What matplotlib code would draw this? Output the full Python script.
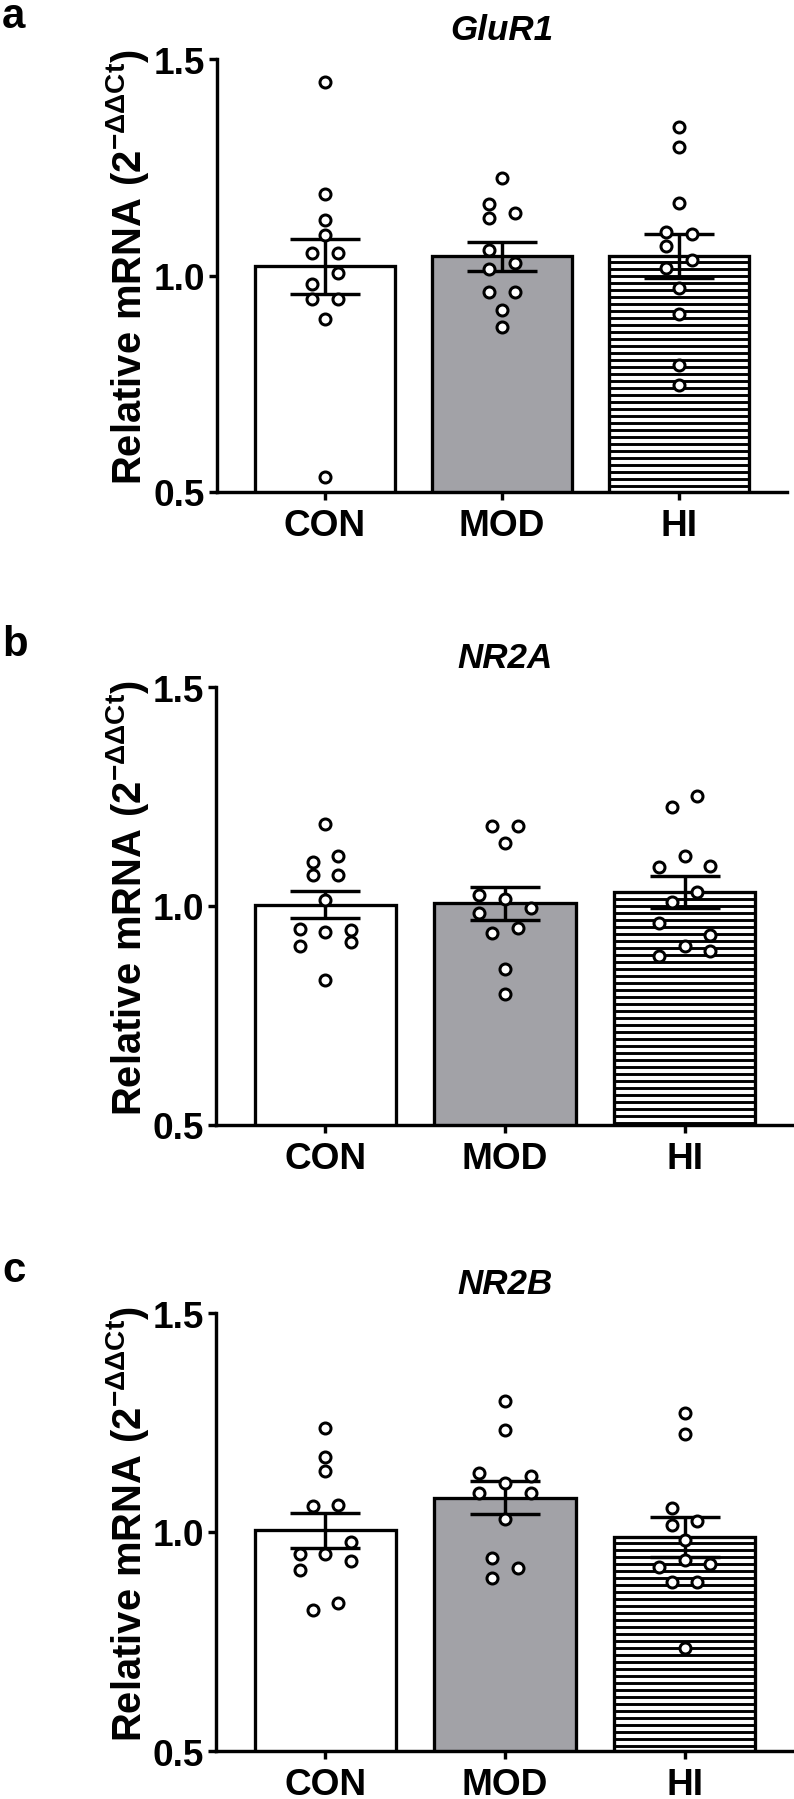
import matplotlib
matplotlib.use("Agg")
import matplotlib.pyplot as plt
import numpy as np

# ---------------- data ----------------
groups = ["CON", "MOD", "HI"]
genes = ["GluR1", "NR2A", "NR2B"]
panel_letters = ["a", "b", "c"]

glur1_con = [1.448, 1.188, 1.128, 1.094, 1.051, 1.051, 1.005, 0.981, 0.945, 0.945, 0.899, 0.535]
glur1_mod = [1.225, 1.164, 1.144, 1.133, 1.058, 1.029, 1.015, 0.962, 0.962, 0.920, 0.882]
glur1_hi = [1.342, 1.296, 1.168, 1.100, 1.096, 1.069, 1.035, 1.018, 0.972, 0.912, 0.793, 0.747]
glur1_mean = [1.021, 1.044, 1.045]
glur1_sem = [0.063, 0.034, 0.051]

nr2a_con = [1.188, 1.101, 1.115, 1.070, 1.070, 1.014, 0.948, 0.941, 0.946, 0.908, 0.917, 0.830]
nr2a_mod = [1.182, 1.182, 1.144, 1.024, 1.015, 0.996, 0.984, 0.949, 0.939, 0.856, 0.799]
nr2a_hi = [1.251, 1.226, 1.115, 1.089, 1.092, 1.032, 1.010, 0.961, 0.933, 0.908, 0.897, 0.886]
nr2a_mean = [1.003, 1.006, 1.032]
nr2a_sem = [0.031, 0.038, 0.036]

nr2b_con = [1.238, 1.171, 1.140, 1.059, 1.062, 0.978, 0.950, 0.950, 0.933, 0.913, 0.839, 0.821]
nr2b_mod = [1.298, 1.234, 1.134, 1.127, 1.112, 1.090, 1.090, 1.029, 0.940, 0.918, 0.896]
nr2b_hi = [1.271, 1.223, 1.055, 1.026, 1.017, 0.981, 0.937, 0.920, 0.928, 0.885, 0.885, 0.736]
nr2b_mean = [1.004, 1.078, 0.989]
nr2b_sem = [0.040, 0.038, 0.046]

# ---------------- layout (scatter slots, not data) ----------------
glur1_slots = [[0, 0, 0, 0, -1, 1, 1, -1, -1, 1, 0, 0],
               [0, -1, 1, -1, -1, 1, -1, -1, 1, 0, 0],
               [0, 0, 0, -1, 1, -1, 1, -1, 0, 0, 0, 0]]
nr2a_slots = [[0, -1, 1, -1, 1, 0, -2, 0, 2, -2, 2, 0],
              [-1, 1, 0, -2, 0, 2, -2, 1, -1, 0, 0],
              [1, -1, 0, -2, 2, 1, -1, -2, 2, 0, 2, -2]]
nr2b_slots = [[0, 0, 0, -1, 1, 2, -2, 0, 2, -2, 1, -1],
              [0, 0, -2, 2, 0, -2, 2, 0, -1, 1, -1],
              [0, 0, -1, 1, -1, 0, 0, -2, 2, -1, 1, 0]]

panels = [
    (genes[0], panel_letters[0], [glur1_con, glur1_mod, glur1_hi], glur1_mean, glur1_sem, glur1_slots),
    (genes[1], panel_letters[1], [nr2a_con, nr2a_mod, nr2a_hi], nr2a_mean, nr2a_sem, nr2a_slots),
    (genes[2], panel_letters[2], [nr2b_con, nr2b_mod, nr2b_hi], nr2b_mean, nr2b_sem, nr2b_slots),
]

W, H, DPI = 795, 1800, 84


def pt(px):
    return px * 72.0 / DPI


plt.rcParams.update({
    "font.family": ["Liberation Sans", "DejaVu Sans"],
    "font.weight": "bold",
    "mathtext.fontset": "custom",
    "mathtext.rm": "Liberation Sans",
    "mathtext.bf": "Liberation Sans:bold",
    "mathtext.it": "Liberation Sans:italic",
    "hatch.linewidth": pt(2.9),
    "hatch.color": "black",
})

# axes rectangles in pixels: left, top, right, bottom
rects = [(217, 60, 787, 493), (216, 688, 794, 1126), (216, 1314, 794, 1752)]
bar_colors = ["white", "#A2A2A7", "white"]
ylabel = r"$\mathbf{Relative\ mRNA\ (2}^{\mathrm{-ΔΔCt}}\mathbf{)}$"

fig = plt.figure(figsize=(W / DPI, H / DPI), dpi=DPI)

for (gene, letter, pts_lists, means, sems, slots), (l, t, r, b) in zip(panels, rects):
    ax = fig.add_axes([l / W, 1 - b / H, (r - l) / W, (b - t) / H])
    x = np.arange(len(groups))
    bars = ax.bar(x, means, width=0.79, color=bar_colors, edgecolor="black",
                  linewidth=pt(3.3), zorder=2)
    bars[2].set_hatch("--")
    ax.errorbar(x, means, yerr=sems, fmt="none", ecolor="black",
                elinewidth=pt(3.4), capsize=pt(35), capthick=pt(3.4), zorder=3)
    for j, (vals, sl) in enumerate(zip(pts_lists, slots)):
        ax.plot(j + np.array(sl) * 0.072, vals, "o", mfc="white", mec="black",
                ms=pt(11), mew=pt(3.0), zorder=4, clip_on=False)

    ax.set_ylim(0.5, 1.5)
    ax.set_xlim(-0.61, 2.61)
    ax.set_yticks([0.5, 1.0, 1.5])
    ax.set_yticklabels(["0.5", "1.0", "1.5"])
    ax.set_xticks(x)
    ax.set_xticklabels(groups)
    for s in ["top", "right"]:
        ax.spines[s].set_visible(False)
    for s in ["left", "bottom"]:
        ax.spines[s].set_linewidth(pt(3.4))
    ax.tick_params(axis="both", direction="out", length=pt(8), width=pt(3.4),
                   labelsize=pt(37))
    ax.tick_params(axis="y", pad=pt(4))
    ax.tick_params(axis="x", pad=pt(8))
    for lab in ax.get_xticklabels() + ax.get_yticklabels():
        lab.set_fontweight("bold")
    ax.set_title(gene, fontsize=pt(35), fontstyle="italic", fontweight="bold",
                 pad=pt(20))

    fig.text(2 / W, 1 - (t - 32) / H, letter, fontsize=pt(42), fontweight="bold",
             va="baseline", ha="left")
    fig.text(128 / W, 1 - ((t + b) / 2 - 9) / H, ylabel, rotation=90,
             ha="center", va="center", fontsize=pt(40))

fig.savefig("out.png", dpi=DPI)
